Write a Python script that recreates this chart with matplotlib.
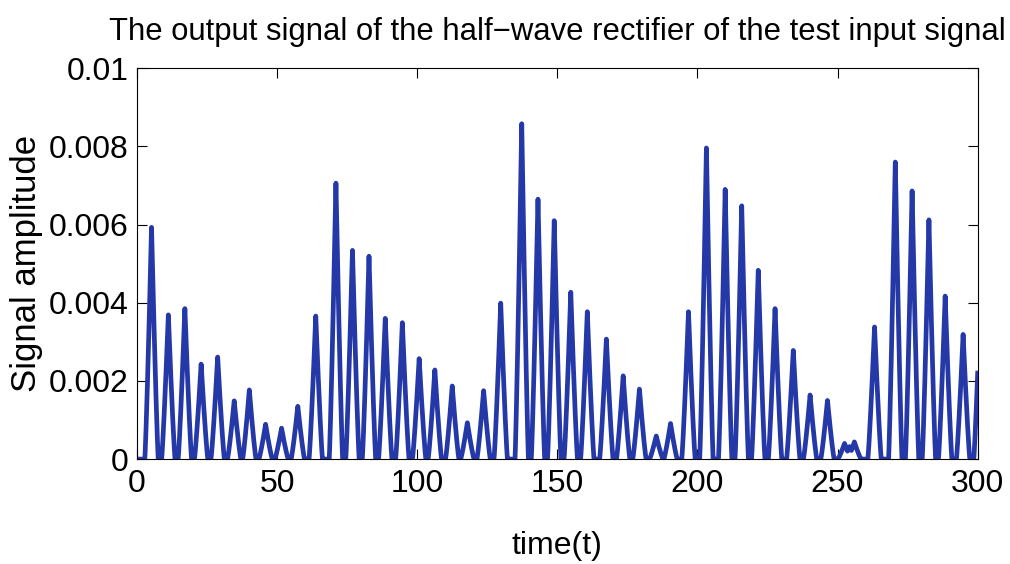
import numpy as np
import matplotlib.pyplot as plt

# peak times and heights of the rectified pulses
peak_t = [5.2, 11.2, 17.1, 22.9, 28.8, 34.7, 40.1, 45.9, 51.6, 57.4,
          63.8, 71.0, 76.9, 82.8, 88.6, 94.7, 100.7, 106.3, 112.5, 117.9,
          123.7, 129.8, 137.3, 143.1, 148.9, 154.8, 160.7, 167.5, 173.5, 179.3,
          185.3, 190.4, 196.8, 203.2, 209.9, 215.8, 221.7, 227.7, 234.2, 240.2,
          246.4, 252.5, 254.3, 256.0, 263.2, 270.6, 276.6, 282.6, 288.4, 294.8,
          301.0]
peak_h = [0.00593, 0.00369, 0.00385, 0.00243, 0.00261, 0.00149, 0.00177, 0.00089, 0.00079, 0.00135,
          0.00366, 0.00706, 0.00534, 0.00519, 0.00360, 0.00349, 0.00257, 0.00228, 0.00187, 0.00093,
          0.00175, 0.00399, 0.00858, 0.00665, 0.00610, 0.00427, 0.00377, 0.00307, 0.00213, 0.00179,
          0.00059, 0.00091, 0.00377, 0.00796, 0.00690, 0.00648, 0.00483, 0.00385, 0.00278, 0.00164,
          0.00150, 0.00040, 0.00032, 0.00044, 0.00338, 0.00760, 0.00686, 0.00612, 0.00417, 0.00319,
          0.00420]

xticks = [0, 50, 100, 150, 200, 250, 300]
yticks = [0, 0.002, 0.004, 0.006, 0.008, 0.01]
ytick_labels = ["0", "0.002", "0.004", "0.006", "0.008", "0.01"]

# build the waveform: each pulse is a near-triangular lobe around its peak
t = np.linspace(0, 300, 6001)
half_width = 2.4
y = np.zeros_like(t)
for tp, h in zip(peak_t, peak_h):
    d = np.abs(t - tp)
    lobe = np.where(d < half_width, h * (1 - d / half_width) ** 1.2, 0)
    y = np.maximum(y, lobe)

plt.rcParams['font.family'] = ['Liberation Sans', 'DejaVu Sans']

fig = plt.figure(figsize=(10.1, 5.64), dpi=100)
ax = fig.add_axes([0.1356, 0.186, 0.8324, 0.693])

ax.plot(t, y, color='#2438a8', lw=3.4)

ax.set_xlim(0, 300)
ax.set_ylim(0, 0.01)
ax.set_xticks(xticks)
ax.set_yticks(yticks)
ax.set_yticklabels(ytick_labels)
ax.tick_params(direction='in', top=True, right=True, labelsize=23, length=7, width=0.8)
ax.tick_params(axis='x', pad=7)
ax.tick_params(axis='y', pad=6)
for s in ax.spines.values():
    s.set_linewidth(0.8)

ax.set_xlabel("time(t)", fontsize=23, labelpad=23)
ax.set_ylabel("Signal amplitude", fontsize=25)
ax.yaxis.set_label_coords(-0.112, 0.5)
ax.set_title("The output signal of the half\u2212wave rectifier of the test input signal",
             fontsize=22.3, pad=20)

fig.savefig("out.png", dpi=100)
